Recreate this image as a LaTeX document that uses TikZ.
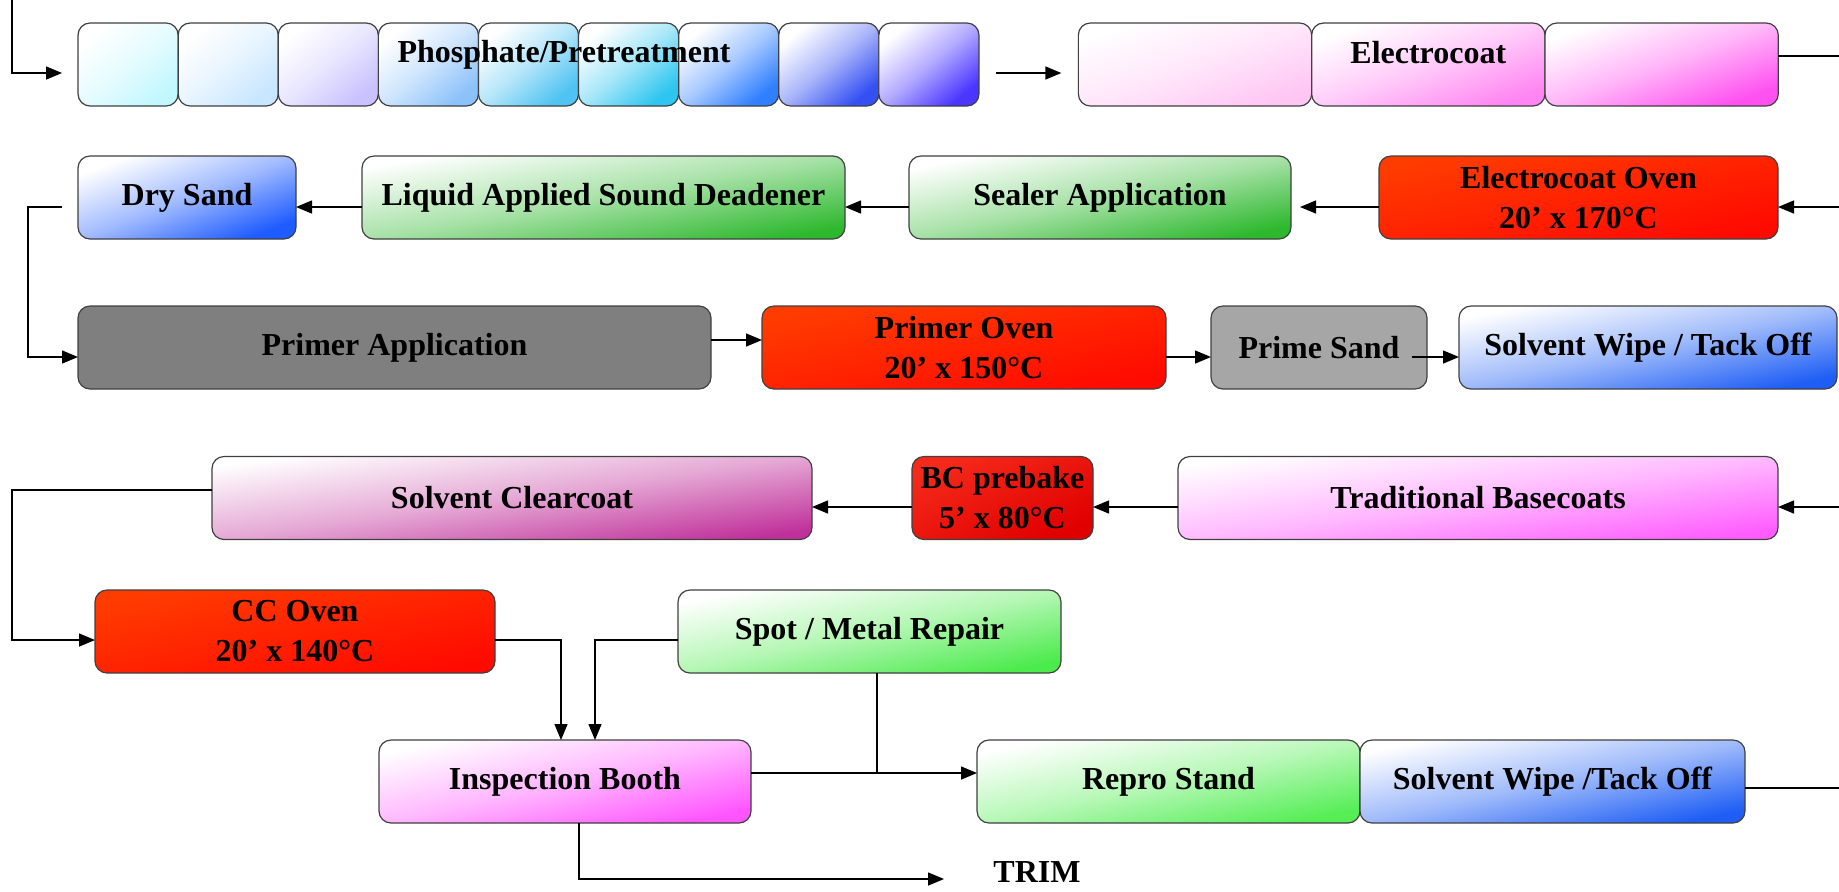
\documentclass[tikz,border=0pt]{standalone}
\usepackage{fontspec}
\setmainfont{Liberation Serif}
\usepackage{tikz}
\usetikzlibrary{arrows.meta,positioning,calc}
\usepackage{xcolor}
% tank colours of the pretreatment line
\definecolor{pre1}{HTML}{C2F7FF}
\definecolor{pre2}{HTML}{C8E6FF}
\definecolor{pre3}{HTML}{C9C2FF}
\definecolor{pre4}{HTML}{8CC2FA}
\definecolor{pre5}{HTML}{4FC3F2}
\definecolor{pre6}{HTML}{2EC6F0}
\definecolor{pre7}{HTML}{2F7FFF}
\definecolor{pre8}{HTML}{3550F2}
\definecolor{pre9}{HTML}{4A36FF}
\definecolor{ecoat1}{HTML}{FFC6F4}
\definecolor{ecoat2}{HTML}{FF86F2}
\definecolor{ecoat3}{HTML}{FF50F0}
\definecolor{sandblue}{HTML}{1F5CFF}
\definecolor{sealgreen}{HTML}{2DB82D}
\definecolor{ovenA}{HTML}{FF3C00}
\definecolor{ovenB}{HTML}{FF0A00}
\definecolor{prebakeA}{HTML}{F52A1A}
\definecolor{prebakeB}{HTML}{E00000}
\definecolor{primergray}{HTML}{7F7F7F}
\definecolor{sandgray}{HTML}{A6A6A6}
\definecolor{wipeblue}{HTML}{1E5EF5}
\definecolor{clearplum}{HTML}{C0309A}
\definecolor{basepink}{HTML}{FF5CFF}
\definecolor{repairgreen}{HTML}{4CEB4C}
\definecolor{inspectpink}{HTML}{FF55FF}
\definecolor{reprogreen}{HTML}{55EE55}

\tikzset{
  box/.style={draw=black!75, line width=0.6pt, rounded corners=6pt, minimum height=41.5pt,
    inner sep=2pt, outer sep=0pt, align=center, font=\bfseries\fontsize{16}{20}\selectfont},
  lbl/.style={font=\bfseries\fontsize{16}{20}\selectfont},
  % white corner top left, full colour bottom right; #2 tilts it to the box
  grad/.style 2 args={top color=white, bottom color=#1, middle color=#1!42!white, shading angle=#2},
  oven/.style={top color=ovenA, bottom color=ovenB, shading angle=#1},
  arr/.style={line width=0.7pt, -{Triangle[length=8pt,width=6.5pt]}},
  wire/.style={line width=0.7pt}
}

\begin{document}
\begin{tikzpicture}[x=0.5pt, y=-0.5pt]
  \useasboundingbox (0,0) rectangle (1839,891);

  % levels of the connectors
  \coordinate (in) at (12,0);
  \coordinate (l1) at (0,73);
  \coordinate (r1) at (1839,56);
  \coordinate (r2) at (1839,207);
  \coordinate (l3a) at (0,340);
  \coordinate (l3b) at (0,357);
  \coordinate (r4) at (1839,507);
  \coordinate (l4) at (0,490);
  \coordinate (l5) at (0,640);
  \coordinate (j) at (877,773);
  \coordinate (k) at (579,879);
  \coordinate (r6) at (1839,788);

  % pretreatment tanks and electrocoat
  \foreach \c [count=\i] in {pre1,pre2,pre3,pre4,pre5,pre6,pre7,pre8,pre9}
    \node[box, grad={\c}{40}, minimum width=50.05pt] (p\i) at ({28+100.1*\i},64.5) {};
  \node[lbl] (pretxt) at (564,55) {Phosphate/Pretreatment};
  \foreach \c [count=\i] in {ecoat1,ecoat2,ecoat3}
    \node[box, grad={\c}{20}, minimum width=116.65pt] (e\i) at ({961.7+233.3*\i},64.5) {};
  \node[lbl] (ectxt) at (e2 |- 0,53) {Electrocoat};

  % second row, right to left
  \node[box, grad={sandblue}{21}, minimum width=109pt] (ds) at (187,197.5) {Dry Sand};
  \node[box, grad={sealgreen}{10}, minimum width=241.5pt] (lasd) at (603.5,197.5) {Liquid Applied Sound Deadener};
  \node[box, grad={sealgreen}{12}, minimum width=191pt] (seal) at (1100,197.5) {Sealer Application};
  \node[box, oven=12, minimum width=199.5pt] (eco) at (1578.5,197.5) {Electrocoat Oven\\20’ x 170°C};

  % primer
  \node[box, fill=primergray, minimum width=316.5pt] (pa) at (394.5,347.5) {Primer Application};
  \node[box, oven=12, minimum width=202pt] (po) at (964,347.5) {Primer Oven\\20’ x 150°C};
  \node[box, fill=sandgray, minimum width=108pt] (ps) at (1319,347.5) {Prime Sand};
  \node[box, grad={wipeblue}{12}, minimum width=189pt] (sw) at (1648,347.5) {Solvent Wipe / Tack Off};

  % topcoat
  \node[box, grad={clearplum}{8}, minimum width=300pt] (scc) at (512,498) {Solvent Clearcoat};
  \node[box, top color=prebakeA, bottom color=prebakeB, shading angle=25, minimum width=90.5pt] (bcp) at (1002.5,498) {BC prebake\\5’ x 80°C};
  \node[box, grad={basepink}{8}, minimum width=300pt] (tbc) at (1478,498) {Traditional Basecoats};

  \node[box, oven=12, minimum width=200pt] (cco) at (295,631.5) {CC Oven\\20’ x 140°C};
  \node[box, grad={repairgreen}{12}, minimum width=191.5pt] (smr) at (869.5,631.5) {Spot / Metal Repair};

  % inspection and repair
  \node[box, grad={inspectpink}{13}, minimum width=186pt] (ib) at (565,781.5) {Inspection Booth};
  \node[box, grad={reprogreen}{12}, minimum width=191.5pt] (rs) at (1168.5,781.5) {Repro Stand};
  \node[box, grad={wipeblue}{12}, minimum width=192.5pt, right=0pt of rs] (sw2) {Solvent Wipe /Tack Off};
  \node[lbl, anchor=west, inner sep=0pt] (trim) at (993,872) {TRIM};

  % flow
  \draw[arr, shorten >=8pt] (in) |- (p1.west |- l1);
  \draw[arr, shorten <=8.5pt, shorten >=8.5pt] (p9.east |- l1) -- (e1.west |- l1);
  \draw[wire] (e3.east |- r1) -- (r1);
  \draw[arr] (r2) -- (eco.east |- r2);
  \draw[arr, shorten >=4.5pt] (eco.west |- r2) -- (seal.east |- r2);
  \draw[arr] (seal.west |- r2) -- (lasd.east |- r2);
  \draw[arr] (lasd.west |- r2) -- (ds.east |- r2);
  \draw[arr, shorten <=8pt] (ds.west |- r2) -- (28,207) |- (pa.west |- l3b);
  \draw[arr] (pa.east |- l3a) -- (po.west |- l3a);
  \draw[arr] (po.east |- l3b) -- (ps.west |- l3b);
  \draw[arr] ($(ps.east |- l3b)+(-15,0)$) -- (sw.west |- l3b);
  \draw[arr] (r4) -- (tbc.east |- r4);
  \draw[arr] (tbc.west |- r4) -- (bcp.east |- r4);
  \draw[arr] (bcp.west |- r4) -- (scc.east |- r4);
  \draw[arr] (scc.west |- l4) -- (12,490) |- (cco.west |- l5);
  \draw[arr] (cco.east |- l5) -| ([xshift=-2pt]ib.north);
  \draw[arr] (smr.west |- l5) -| ([xshift=15pt]ib.north);
  \draw[wire] (smr.south -| j) -- (j);
  \draw[arr] (ib.east |- j) -- (rs.west |- j);
  \draw[wire] (sw2.east |- r6) -- (r6);
  \draw[arr, shorten >=24.5pt] (ib.south -| k) |- (trim.west |- k);
\end{tikzpicture}
\end{document}
